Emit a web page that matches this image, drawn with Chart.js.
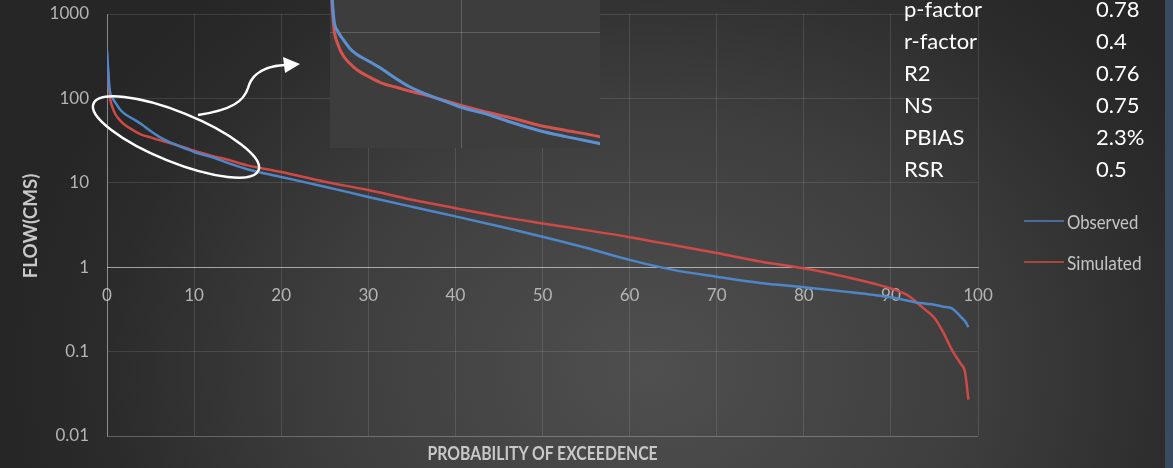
<!DOCTYPE html>
<html>
<head>
<meta charset="utf-8">
<script src="https://cdn.jsdelivr.net/npm/chart.js@4.4.1/dist/chart.umd.min.js"></script>
<style>
  html, body { margin: 0; padding: 0; }
  body { width: 1173px; height: 468px; overflow: hidden; }
  #wrap {
    position: relative; width: 1173px; height: 468px; overflow: hidden;
    background:
      radial-gradient(ellipse 640px 520px at 650px 370px, #4f4f4f 0%, #3e3e3e 50%, #2b2b2b 85%, #262626 100%);
    font-family: Lato, "Open Sans", sans-serif;
  }
  #strip { position: absolute; left: 1165px; top: 0; width: 8px; height: 468px; background: #3a4a5f; }
  #main { position: absolute; left: 0; top: 0; }
  #inset { position: absolute; left: 330px; top: 0; background: #3d3d3d; }
  #deco { position: absolute; left: 0; top: 0; pointer-events: none; }
  .stat { position: absolute; color: #ffffff; font-size: 22px; line-height: 32px; white-space: nowrap; }
  .leg { position: absolute; color: #c4c4c4; font-size: 20px; line-height: 24px; white-space: nowrap; transform-origin: left center; }
  .legline { position: absolute; height: 2px; }
  #xtitle { position: absolute; color: #c8c8c8; font-weight: bold; font-size: 19px; line-height: 22px; white-space: nowrap; }
  #ytitle { position: absolute; color: #c8c8c8; font-weight: bold; font-size: 18px; line-height: 22px; white-space: nowrap; }
</style>
</head>
<body>
<div id="wrap">
  <div id="strip"></div>
  <canvas id="main" width="1173" height="468"></canvas>
  <canvas id="inset" width="270" height="148"></canvas>
  <svg id="deco" width="1173" height="468">
    <ellipse cx="176" cy="137" rx="89" ry="25" transform="rotate(22 176 137)" fill="none" stroke="#ffffff" stroke-width="2.5"/>
    <path d="M198,115 C232,110 244,101 248,88 C252,73 266,66 285,65" fill="none" stroke="#ffffff" stroke-width="2.5"/>
    <polygon points="283,57 300,64 285,73" fill="#ffffff"/>
  </svg>
  <div id="xtitle">PROBABILITY OF EXCEEDENCE</div>
  <div id="ytitle">FLOW(CMS)</div>
</div>
<script>
// ---------------- data ----------------
const exceedance = [0, 0.3, 0.6, 1, 1.5, 2, 3, 4, 5, 6, 7, 8, 9, 10, 12, 14, 16, 18, 20, 25,
  30, 35, 40, 45, 50, 55, 60, 65, 70, 75, 80, 85, 88, 90, 92, 93, 94, 95, 96, 97, 98, 98.5, 98.9];
const observedFlow = [370, 130, 103, 88, 74, 66, 57, 49, 41, 35, 31, 28, 25.5, 23.2, 20.2, 17.0, 14.6, 13.0, 11.7, 9.0,
  6.8, 5.2, 4.0, 3.05, 2.3, 1.7, 1.22, 0.93, 0.77, 0.65, 0.58, 0.51, 0.47, 0.44, 0.40, 0.38, 0.37, 0.36, 0.34, 0.325, 0.26, 0.23, 0.195];
const simulatedFlow = [325, 110, 80, 64, 55, 49, 42, 37, 34.5, 32, 30, 28, 26, 24, 21, 18.6, 16.2, 14.7, 13.4, 10.3,
  8.2, 6.3, 5.0, 4.0, 3.3, 2.75, 2.27, 1.83, 1.47, 1.17, 0.97, 0.76, 0.64, 0.56, 0.46, 0.38, 0.31, 0.25, 0.17, 0.105, 0.072, 0.058, 0.027];
const seriesNames = ["Observed", "Simulated"];
const xTickValues = [0, 10, 20, 30, 40, 50, 60, 70, 80, 90, 100];
const yTickValues = [0.01, 0.1, 1, 10, 100, 1000];
const yTickLabels = ["0.01", "0.1", "1", "10", "100", "1000"];
const statNames = ["p-factor", "r-factor", "R2", "NS", "PBIAS", "RSR"];
const statValues = ["0.78", "0.4", "0.76", "0.75", "2.3%", "0.5"];

// ---------------- styles ----------------
const BLUE = "#4f86c8";
const RED = "#cf4946";

Chart.defaults.font.family = "Lato, 'Open Sans', sans-serif";

function pts(ys) { return exceedance.map((x, i) => ({ x: x, y: ys[i] })); }
function noPad(s) { s.paddingTop = 0; s.paddingBottom = 0; s.paddingLeft = 0; s.paddingRight = 0; }

const mainChart = new Chart(document.getElementById("main"), {
  type: "line",
  data: {
    datasets: [
      { label: seriesNames[0], data: pts(observedFlow), borderColor: BLUE, borderWidth: 2.5, pointRadius: 0, cubicInterpolationMode: "monotone", fill: false },
      { label: seriesNames[1], data: pts(simulatedFlow), borderColor: RED, borderWidth: 2.5, pointRadius: 0, cubicInterpolationMode: "monotone", fill: false }
    ]
  },
  options: {
    responsive: false,
    animation: false,
    devicePixelRatio: 1,
    layout: { padding: { left: 0, top: 14, right: 195, bottom: 32 } },
    plugins: { legend: { display: false }, tooltip: { enabled: false } },
    scales: {
      x: {
        type: "linear",
        min: 0, max: 100,
        position: { y: 1 },
        afterBuildTicks: s => { s.ticks = xTickValues.map(v => ({ value: v })); },
        afterFit: s => { noPad(s); },
        ticks: { color: "#b4b4b4", font: { size: 17 }, padding: 18, callback: v => String(v), maxRotation: 0, autoSkip: false },
        grid: { color: "rgba(255,255,255,0.11)", drawTicks: false, lineWidth: 1 },
        border: { display: true, color: "rgba(255,255,255,0.5)", width: 1 }
      },
      y: {
        type: "logarithmic",
        min: 0.01, max: 1000,
        afterBuildTicks: s => { s.ticks = yTickValues.map(v => ({ value: v })); },
        afterFit: s => { s.width = 107; noPad(s); },
        ticks: { color: "#b4b4b4", font: { size: 17 }, padding: 18,
          callback: (v) => { const i = yTickValues.indexOf(v); return i >= 0 ? yTickLabels[i] : ""; } },
        grid: {
          drawTicks: false, lineWidth: 1,
          color: ctx => (ctx.tick && ctx.tick.value === 0.01) ? "rgba(255,255,255,0.25)" : "rgba(255,255,255,0.11)"
        },
        border: { display: true, color: "rgba(255,255,255,0.4)", width: 1 }
      }
    }
  }
});

const insetChart = new Chart(document.getElementById("inset"), {
  type: "line",
  data: {
    datasets: [
      { label: seriesNames[0], data: pts(observedFlow), borderColor: "#5b90d2", borderWidth: 3, pointRadius: 0, cubicInterpolationMode: "monotone", fill: false },
      { label: seriesNames[1], data: pts(simulatedFlow), borderColor: "#d4534c", borderWidth: 3, pointRadius: 0, cubicInterpolationMode: "monotone", fill: false }
    ]
  },
  options: {
    responsive: false,
    animation: false,
    devicePixelRatio: 1,
    layout: { padding: 0 },
    plugins: { legend: { display: false }, tooltip: { enabled: false } },
    scales: {
      x: {
        type: "linear", min: 0, max: 20.6,
        afterBuildTicks: s => { s.ticks = [{ value: 10 }]; },
        afterFit: s => { s.height = 0; noPad(s); },
        ticks: { display: false },
        grid: { color: "rgba(255,255,255,0.18)", drawTicks: false },
        border: { display: false }
      },
      y: {
        type: "logarithmic", min: 10.4, max: 191,
        afterBuildTicks: s => { s.ticks = [{ value: 100 }]; },
        afterFit: s => { s.width = 0; noPad(s); },
        ticks: { display: false },
        grid: { color: "rgba(255,255,255,0.18)", drawTicks: false },
        border: { display: false }
      }
    }
  }
});

// ---------------- text overlays ----------------
const wrap = document.getElementById("wrap");
const baselines = [17, 49, 81, 113, 145, 177];
statNames.forEach((name, i) => {
  const top = baselines[i] - 24.5;
  const a = document.createElement("div");
  a.className = "stat"; a.textContent = name;
  a.style.left = "904px"; a.style.top = top + "px";
  wrap.appendChild(a);
  const b = document.createElement("div");
  b.className = "stat"; b.textContent = statValues[i];
  b.style.left = "1096px"; b.style.top = top + "px";
  wrap.appendChild(b);
});

const legY = [221, 262];
const legW = [71, 75];
const legC = ["#4a6c9c", "#a84442"];
seriesNames.forEach((name, i) => {
  const l = document.createElement("div");
  l.className = "legline";
  l.style.left = "1024px"; l.style.width = "40px"; l.style.top = (legY[i] - 1) + "px";
  l.style.background = legC[i];
  wrap.appendChild(l);
  const t = document.createElement("div");
  t.className = "leg"; t.textContent = name;
  t.style.left = "1067px"; t.style.top = (legY[i] - 12) + "px";
  wrap.appendChild(t);
  t.style.transform = "scaleX(" + (legW[i] / t.offsetWidth) + ")";
});

const xt = document.getElementById("xtitle");
const xs = 230 / xt.offsetWidth;
xt.style.left = (542 - xt.offsetWidth / 2) + "px";
xt.style.top = (453 - 11) + "px";
xt.style.transform = "scaleX(" + xs + ")";

const yt = document.getElementById("ytitle");
const ys = 105 / yt.offsetWidth;
yt.style.left = (30 - yt.offsetWidth / 2) + "px";
yt.style.top = (226 - 11) + "px";
yt.style.transform = "rotate(-90deg) scaleX(" + ys + ")";
</script>
</body>
</html>
